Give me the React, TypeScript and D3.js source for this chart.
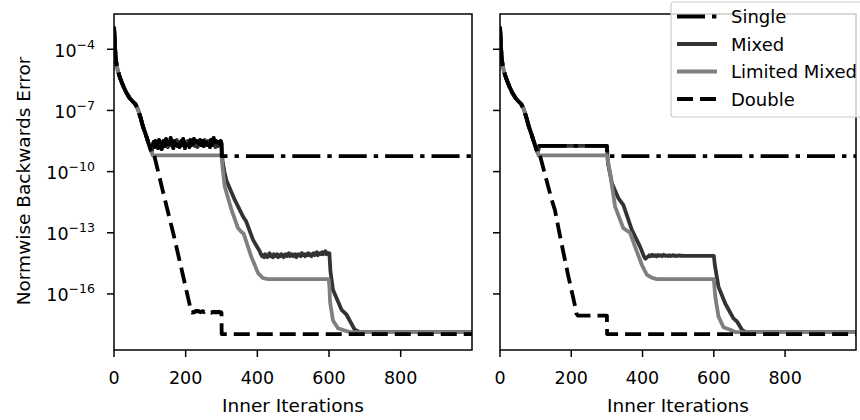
import React from "react";
import * as d3 from "d3";

// ---- data (iteration, log10 of normwise backward error) ----
const xTicks = [0, 200, 400, 600, 800];
const yTickExps = [-4, -7, -10, -13, -16];
const seriesNames = ["Single", "Mixed", "Limited Mixed", "Double"];

const descent: [number, number][] = [
  [0, -2.9], [2, -3.6], [4, -4.25], [7, -4.75], [10, -5.0], [14, -5.25], [20, -5.55],
  [27, -5.85], [35, -6.15], [44, -6.4], [53, -6.57], [60, -6.7], [67, -6.95], [74, -7.35],
  [81, -7.8], [88, -8.15], [95, -8.53], [100, -8.8], [105, -9.05],
];

// left panel
const leftPlateauStart = 108;
const leftPlateauStep = 2.5;
const leftPlateauNoise = [
  -8.75, -8.55, -8.8, -8.5, -8.7, -8.6, -8.85, -8.45, -8.7, -8.55, -8.9, -8.6, -8.5, -8.75, -8.6, -8.4,
  -8.7, -8.8, -8.55, -8.65, -8.35, -8.7, -8.6, -8.85, -8.5, -8.7, -8.6, -8.45, -8.75, -8.55, -8.8, -8.6,
  -8.5, -8.7, -8.4, -8.65, -8.85, -8.55, -8.7, -8.5, -8.6, -8.8, -8.45, -8.7, -8.55, -8.65, -8.4, -8.75,
  -8.6, -8.5, -8.8, -8.55, -8.65, -8.45, -8.7, -8.6, -8.5, -8.75, -8.45, -8.65, -8.55, -8.7, -8.5, -8.6,
  -8.8, -8.45, -8.7, -8.55, -8.35, -8.65, -8.8, -8.5, -8.6, -8.75, -8.55, -8.65, -8.5,
];
const leftSingleTail: [number, number][] = [[300, -8.6], [300.5, -9.24], [999, -9.24]];
const leftMixedDrop1: [number, number][] = [
  [300, -8.65], [303, -9.5], [308, -10.0], [314, -10.45], [337, -11.39], [360, -12.2], [369, -12.45],
  [388, -13.35], [407, -13.92],
];
const leftMixedNoiseStart = 410;
const leftMixedNoiseStep = 3;
const leftMixedNoise = [
  -14.05, -14.15, -14.1, -14.2, -14.05, -14.15, -14.2, -14.1, -14.0, -14.15, -14.1, -14.2, -14.05, -14.15,
  -14.1, -14.05, -14.2, -14.1, -14.15, -14.05, -14.1, -14.2, -14.1, -14.05, -14.15, -14.1, -14.0, -14.15,
  -14.1, -14.05, -14.15, -14.1, -14.05, -14.2, -14.1, -14.05, -14.1, -14.15, -14.0, -14.1, -14.05, -14.15,
  -14.05, -14.1, -14.0, -14.1, -14.05, -14.15, -14.05, -14.0, -14.1, -14.05, -13.95, -14.1, -14.05, -14.0,
  -14.05, -13.95, -14.05, -14.0, -13.9, -14.05, -14.0, -14.0,
];
const leftMixedDrop2: [number, number][] = [
  [601, -14.0], [604, -14.9], [611, -15.8], [635, -16.78], [649, -17.02], [672, -17.76], [685, -17.87], [999, -17.87],
];
const leftLimited: [number, number][] = [
  [108, -9.2], [300, -9.2], [303, -9.8], [309, -10.73], [328, -11.88], [346, -12.77], [355, -12.95],
  [362, -13.05], [383, -14.17], [402, -14.98], [416, -15.23], [430, -15.27], [599, -15.27], [601, -15.6],
  [603, -16.4], [611, -17.3], [625, -17.68], [644, -17.8], [660, -17.87], [999, -17.87],
];
const leftDoubleDrop: [number, number][] = [
  [110, -9.1], [113, -9.26], [141, -11.3], [165, -13.0], [190, -14.9], [206, -16.13], [212, -16.6], [216, -16.9],
];
const leftDoubleNoiseStart = 218;
const leftDoubleNoiseStep = 3;
const leftDoubleNoise = [
  -16.92, -16.88, -16.9, -16.85, -16.82, -16.86, -16.83, -16.88, -16.9, -16.86, -16.84, -16.89, -16.86, -16.85,
  -16.9, -16.88, -16.86, -16.9, -16.92, -16.88, -16.9, -16.87, -16.91, -16.88, -16.9, -16.87, -16.92, -16.9,
];
const leftDoubleTail: [number, number][] = [[300, -16.92], [300.5, -17.97], [999, -17.97]];

// right panel
const rightSingle: [number, number][] = [[107, -9.0], [110, -8.74], [300, -8.74], [300.5, -9.24], [999, -9.24]];
const rightMixedA: [number, number][] = [
  [107, -9.0], [110, -8.74], [300, -8.74], [303, -9.6], [314, -10.57], [332, -11.3], [346, -11.63],
  [370, -12.86], [393, -13.68], [405, -14.2], [408, -14.27], [413, -14.2], [417, -14.15],
];
const rightMixedNoiseStart = 419;
const rightMixedNoiseStep = 4;
const rightMixedNoise = [
  -14.1, -14.15, -14.08, -14.14, -14.1, -14.16, -14.09, -14.13, -14.1, -14.15, -14.08, -14.13, -14.11,
  -14.15, -14.1, -14.14, -14.12, -14.1, -14.14, -14.12, -14.13, -14.11, -14.13, -14.12, -14.13, -14.13,
];
const rightMixedB: [number, number][] = [
  [520, -14.13], [600, -14.13], [603, -14.6], [613, -15.64], [632, -16.47], [655, -17.2], [665, -17.35],
  [679, -17.76], [690, -17.87], [999, -17.87],
];
const rightLimited: [number, number][] = [
  [108, -9.2], [300, -9.2], [304, -9.6], [309, -10.08], [323, -11.72], [346, -12.77], [365, -13.0],
  [384, -13.92], [398, -14.57], [412, -15.06], [426, -15.2], [440, -15.27], [600, -15.27], [604, -16.12],
  [613, -17.1], [627, -17.63], [646, -17.76], [660, -17.87], [999, -17.87],
];
const rightDouble: [number, number][] = [
  [110, -9.1], [113, -9.26], [145, -11.38], [154, -11.88], [170, -13.3], [192, -15.15], [211, -16.62],
  [214, -16.95], [218, -17.06], [300, -17.06], [300.5, -17.97], [999, -17.97],
];

// ---- helpers ----
const seg = (start: number, step: number, vals: number[]): [number, number][] =>
  vals.map((v, i) => [start + i * step, v]);

const leftNoise = seg(leftPlateauStart, leftPlateauStep, leftPlateauNoise).filter((d) => d[0] < 300);
const leftData: Record<string, [number, number][]> = {
  Single: [...descent, ...leftNoise, ...leftSingleTail],
  Mixed: [...descent, ...leftNoise, ...leftMixedDrop1, ...seg(leftMixedNoiseStart, leftMixedNoiseStep, leftMixedNoise), ...leftMixedDrop2],
  "Limited Mixed": [...descent, ...leftLimited],
  Double: [...descent, ...leftDoubleDrop, ...seg(leftDoubleNoiseStart, leftDoubleNoiseStep, leftDoubleNoise), ...leftDoubleTail],
};
const rightData: Record<string, [number, number][]> = {
  Single: [...descent, ...rightSingle],
  Mixed: [...descent, ...rightMixedA, ...seg(rightMixedNoiseStart, rightMixedNoiseStep, rightMixedNoise), ...rightMixedB],
  "Limited Mixed": [...descent, ...rightLimited],
  Double: [...descent, ...rightDouble],
};

const styles: Record<string, { color: string; dash: string | undefined }> = {
  Single: { color: "#000", dash: "28,7,4.4,7" },
  Mixed: { color: "#333", dash: undefined },
  "Limited Mixed": { color: "#7f7f7f", dash: undefined },
  Double: { color: "#000", dash: "16,7" },
};
const drawOrder = ["Mixed", "Limited Mixed", "Single", "Double"];

const TOP = 14;
const BOTTOM = 350;
const FONT = "DejaVu Sans, sans-serif";
const LW = 3.8;

function Panel({ x0, x1, data, showLabels, id }: { x0: number; x1: number; data: Record<string, [number, number][]>; showLabels: boolean; id: string }) {
  const x = d3.scaleLinear().domain([0, 999]).range([x0, x1]);
  const y = d3.scaleLog().domain([Math.pow(10, -18.75), Math.pow(10, -2.27)]).range([BOTTOM, TOP]);
  const line = d3
    .line<[number, number]>()
    .x((d) => x(d[0]))
    .y((d) => y(Math.pow(10, d[1])));
  return (
    <g>
      <defs>
        <clipPath id={id}>
          <rect x={x0} y={TOP} width={x1 - x0} height={BOTTOM - TOP} />
        </clipPath>
      </defs>
      <g clipPath={`url(#${id})`}>
        {drawOrder.map((name) => (
          <path
            key={name}
            d={line(data[name]) || ""}
            fill="none"
            stroke={styles[name].color}
            strokeWidth={LW}
            strokeDasharray={styles[name].dash}
            strokeLinejoin="round"
          />
        ))}
      </g>
      <rect x={x0} y={TOP} width={x1 - x0} height={BOTTOM - TOP} fill="none" stroke="#000" strokeWidth={1.5} />
      {xTicks.map((t) => (
        <g key={t}>
          <line x1={x(t)} x2={x(t)} y1={BOTTOM} y2={BOTTOM + 7} stroke="#000" strokeWidth={1.5} />
          <text x={x(t)} y={BOTTOM + 33.5} textAnchor="middle" fontFamily={FONT} fontSize={17.5}>
            {t}
          </text>
        </g>
      ))}
      {yTickExps.map((e) => {
        const ty = y(Math.pow(10, e));
        return (
          <g key={e}>
            <line x1={x0 - 7} x2={x0} y1={ty} y2={ty} stroke="#000" strokeWidth={1.5} />
            {showLabels && (
              <text x={x0 - 19} y={ty + 7.5} textAnchor="end" fontFamily={FONT} fontSize={17.5}>
                10
                <tspan dy={-8} fontSize={12.5}>
                  {"\u2212" + Math.abs(e)}
                </tspan>
              </text>
            )}
          </g>
        );
      })}
      <text x={(x0 + x1) / 2} y={412} textAnchor="middle" fontFamily={FONT} fontSize={18.5}>
        Inner Iterations
      </text>
    </g>
  );
}

export default function App() {
  const legendX = 671;
  const legendY = 2;
  return (
    <div style={{ position: "absolute", left: 0, top: 0 }}>
      <svg width={860} height={420} style={{ display: "block", background: "#fff" }}>
        <rect width={860} height={420} fill="#fff" />
        <Panel x0={114} x1={472} data={leftData} showLabels={true} id="clipL" />
        <Panel x0={500} x1={856} data={rightData} showLabels={false} id="clipR" />
        <text
          transform={`translate(23,181) rotate(-90)`}
          textAnchor="middle"
          dominantBaseline="central"
          fontFamily={FONT}
          fontSize={18.5}
        >
          Normwise Backwards Error
        </text>
        <g>
          <rect x={legendX} y={legendY} width={200} height={115} rx={3} fill="#fff" fillOpacity={0.8} stroke="#ccc" strokeWidth={1.2} />
          {seriesNames.map((name, i) => {
            const cy = 16.5 + i * 27.5;
            return (
              <g key={name}>
                <line
                  x1={legendX + 6}
                  x2={legendX + 46}
                  y1={cy}
                  y2={cy}
                  stroke={styles[name].color}
                  strokeWidth={LW}
                  strokeDasharray={styles[name].dash}
                />
                <text x={legendX + 60} y={cy} dominantBaseline="central" fontFamily={FONT} fontSize={18}>
                  {name}
                </text>
              </g>
            );
          })}
        </g>
      </svg>
    </div>
  );
}
